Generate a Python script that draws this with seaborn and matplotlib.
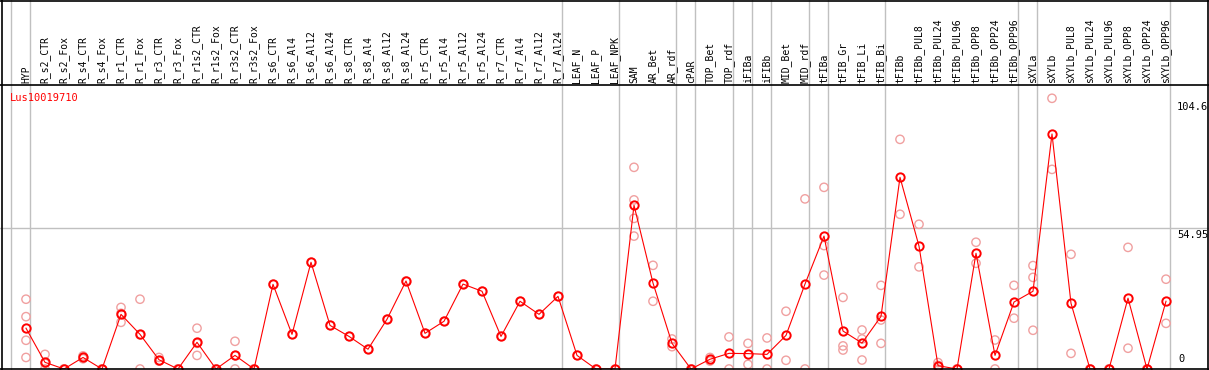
import pandas as pd
import seaborn as sns
import matplotlib.pyplot as plt
from matplotlib.lines import Line2D
from matplotlib import transforms

# sample names (one column each)
samples = ['HYP', 'R_s2_CTR', 'R_s2_Fox', 'R_s4_CTR', 'R_s4_Fox', 'R_r1_CTR', 'R_r1_Fox',
           'R_r3_CTR', 'R_r3_Fox', 'R_r1s2_CTR', 'R_r1s2_Fox', 'R_r3s2_CTR', 'R_r3s2_Fox',
           'R_s6_CTR', 'R_s6_Al4', 'R_s6_Al12', 'R_s6_Al24', 'R_s8_CTR', 'R_s8_Al4',
           'R_s8_Al12', 'R_s8_Al24', 'R_r5_CTR', 'R_r5_Al4', 'R_r5_Al12', 'R_r5_Al24',
           'R_r7_CTR', 'R_r7_Al4', 'R_r7_Al12', 'R_r7_Al24', 'LEAF_N', 'LEAF_P', 'LEAF_NPK',
           'SAM', 'AR_Bet', 'AR_rdf', 'cPAR', 'TOP_Bet', 'TOP_rdf', 'iFIBa', 'iFIBb',
           'MID_Bet', 'MID_rdf', 'tFIBa', 'tFIB_Gr', 'tFIB_Li', 'tFIB_Bi', 'tFIBb',
           'tFIBb_PUL8', 'tFIBb_PUL24', 'tFIBb_PUL96', 'tFIBb_OPP8', 'tFIBb_OPP24',
           'tFIBb_OPP96', 'sXYLa', 'sXYLb', 'sXYLb_PUL8', 'sXYLb_PUL24', 'sXYLb_PUL96',
           'sXYLb_OPP8', 'sXYLb_OPP24', 'sXYLb_OPP96']

# mean expression per sample
means = [15.9, 2.6, 0, 4.5, 0, 21.3, 13.5, 3.6, 0, 10.4, 0, 5.3, 0,
         33.0, 13.5, 41.6, 17.0, 12.7, 7.7, 19.4, 34.3, 13.9, 18.6, 33.1, 30.3,
         12.7, 26.4, 21.3, 28.3, 5.3, 0, 0,
         63.8, 33.5, 10.0, 0, 3.8, 6.1, 6.0, 5.7,
         13.1, 33.1, 51.8, 14.8, 10.1, 20.5, 74.7,
         47.9, 1.3, 0, 45.1, 5.3, 26.1,
         30.3, 91.6, 25.6, 0, 0, 27.6, 0, 26.4]

# individual replicates
replicates = [[27.2, 20.4, 11.2, 4.5], [5.7, 2.2, 0], [0, 0], [5.1, 4.0, 4.4], [0, 0],
              [24.0, 18.2, 21.7], [27.2, 0, 13.3], [4.5, 3.2, 3.1], [0, 0],
              [15.9, 5.3, 10.0], [0, 0], [10.8, 0, 5.2], [0, 0],
              [33.0], [13.5], [41.6], [17.0], [12.7], [7.7], [19.4], [34.3],
              [13.9], [18.6], [33.1], [30.3], [12.7], [26.4], [21.3], [28.3],
              [5.3], [0], [0],
              [78.6, 65.9, 58.7, 51.8], [40.4, 26.4], [11.7, 8.7], [0, 0],
              [4.5, 3.1], [12.5, 0], [10.0, 1.8], [12.1, 0],
              [22.5, 3.4], [66.3, 0], [70.8, 48.1, 36.6], [27.9, 9.0, 7.4],
              [15.2, 3.5, 11.7], [32.6, 19.1, 10.0], [89.5, 60.3],
              [56.4, 39.8], [2.5, 1.4, 0], [0, 0], [49.4, 41.2], [11.3, 0], [32.6, 19.8],
              [40.3, 35.7, 15.1], [105.5, 77.8], [44.7, 6.1], [0, 0], [0, 0],
              [47.4, 8.1], [0, 0], [35.0, 17.8]]

# last sample of each block (grey separators)
group_ends = ['HYP', 'R_r7_Al24', 'LEAF_NPK', 'AR_rdf', 'cPAR', 'TOP_rdf', 'iFIBa',
              'iFIBb', 'MID_rdf', 'tFIBa', 'tFIB_Bi', 'tFIBb_OPP96', 'sXYLa', 'sXYLb_OPP96']

y_ticks = [0, 54.95, 104.6]
gene = 'Lus10019710'

mean_df = pd.DataFrame({'sample': samples, 'value': means})
rep_df = pd.DataFrame([(s, v) for s, vals in zip(samples, replicates) for v in vals],
                      columns=['sample', 'value'])

W, H = 1209, 370
fig = plt.figure(figsize=(W / 100, H / 100), dpi=100)
# plot region: x pixels 1..1171, y pixels 85..369
ax = fig.add_axes([1 / W, 1 / H, 1170 / W, 284 / H])

pink = '#f0a0a0'
sns.stripplot(data=rep_df, x='sample', y='value', order=samples, jitter=False,
              color=pink, size=6, linewidth=1.0, edgecolor=pink, ax=ax, zorder=2)
for c in ax.collections:
    c.set_facecolor('none')
    c.set_edgecolor(pink)

sns.pointplot(data=mean_df, x='sample', y='value', order=samples, color='red',
              errorbar=None, markers='o', markersize=6, linewidth=0.8,
              markerfacecolor='none', markeredgewidth=1.4, ax=ax, zorder=3)

px = 19.0  # pixels per sample
ax.set_xlim((1 - 26) / px, (1171 - 26) / px)
ax.set_ylim(0, 284 / (141 / 54.95))
ax.set_xticks([])
ax.set_yticks([])
ax.set_xlabel('')
ax.set_ylabel('')
for s in ax.spines.values():
    s.set_visible(False)
ax.patch.set_alpha(0)

xfig = transforms.blended_transform_factory(ax.transData, fig.transFigure)
figy = transforms.blended_transform_factory(fig.transFigure, ax.transData)

# grey separators through header and plot
for g in [None] + group_ends:
    xi = (samples.index(g) if g else -1) + 0.23
    fig.add_artist(Line2D([xi, xi], [0, 1], transform=xfig, color='#c0c0c0', lw=1, zorder=0))

# mid grid line
fig.add_artist(Line2D([0, 1], [54.95, 54.95], transform=figy, color='#c0c0c0', lw=1, zorder=0))

# frame lines
k = dict(color='black', lw=1.2, transform=fig.transFigure)
fig.add_artist(Line2D([0, 1], [1 - 0.5 / H, 1 - 0.5 / H], **k))
fig.add_artist(Line2D([0, 1], [1 - 85 / H, 1 - 85 / H], **k))
fig.add_artist(Line2D([0, 1], [1 / H, 1 / H], **k))
fig.add_artist(Line2D([1.5 / W, 1.5 / W], [0, 1], **k))
fig.add_artist(Line2D([1 - 1 / W, 1 - 1 / W], [0, 1], **k))

mono = 'DejaVu Sans Mono'
for i, s in enumerate(samples):
    fig.text(i, 1 - 83 / H, s, transform=xfig, rotation=90, ha='center', va='bottom',
             family=mono, fontsize=7)

fig.text(10 / W, 1 - 98 / H, gene, color='red', family=mono, fontsize=7.5, va='center')

for t in y_ticks:
    lbl = f'{t:g}'
    if t == 0:
        fig.text(1178 / W, 2.0, lbl, transform=figy, va='bottom', family=mono, fontsize=7.5)
    else:
        fig.text(1177 / W, t - 0.6, lbl, transform=figy, va='top', family=mono, fontsize=7.5)

fig.savefig('out.png', dpi=100)
